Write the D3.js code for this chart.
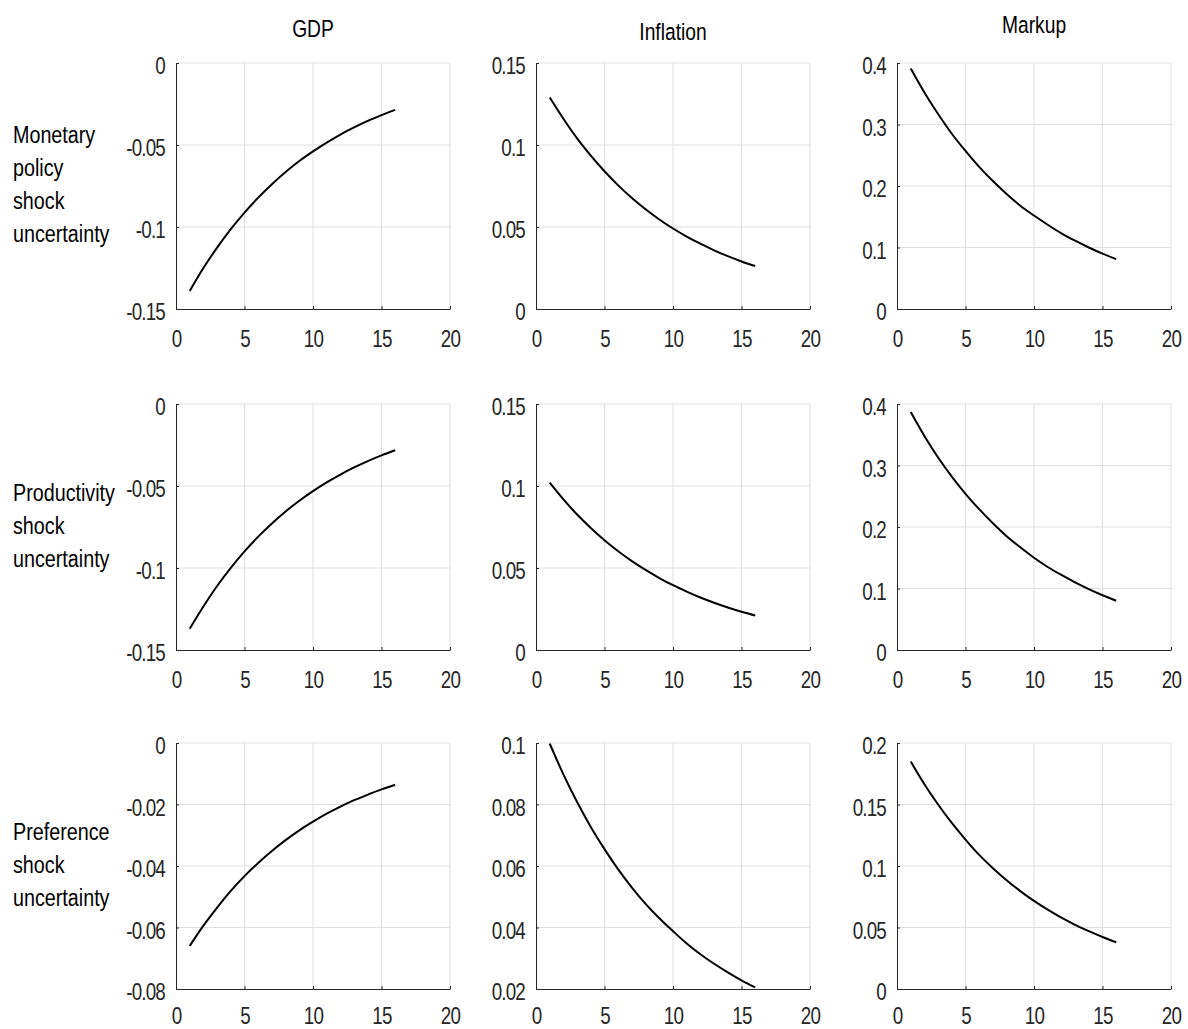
<!DOCTYPE html>
<html>
<head>
<meta charset="utf-8">
<script src="https://cdn.jsdelivr.net/npm/d3@7"></script>
<style>
  body { margin: 0; background: #fff; }
  svg { display: block; font-family: "Liberation Sans", Arial, sans-serif; }
  .grid line { stroke: #dfdfdf; stroke-width: 1; }
  .axis path, .axis line { stroke: #262626; }
  .axis text { fill: #262626; font-size: 23.5px; letter-spacing: -1px; }
  .title, .row-label { fill: #000; font-size: 23.5px; }
</style>
</head>
<body>
<div id="chart"></div>
<script>
// periods after the shock
const periods = [1, 2, 3, 4, 5, 6, 7, 8, 9, 10, 11, 12, 13, 14, 15, 16];
const xTicks = [0, 5, 10, 15, 20];

const columnTitles = ["GDP", "Inflation", "Markup"];
const rowLabels = [
  ["Monetary", "policy", "shock", "uncertainty"],
  ["Productivity", "shock", "uncertainty"],
  ["Preference", "shock", "uncertainty"]
];

// monetary policy shock uncertainty
const monetaryGDP = [-0.139, -0.125, -0.1126, -0.1013, -0.0912, -0.0821, -0.0739, -0.0665, -0.0598, -0.0539, -0.0485, -0.0436, -0.0393, -0.0353, -0.0318, -0.0286];
const monetaryInflation = [0.129, 0.116, 0.104, 0.0935, 0.084, 0.0754, 0.0677, 0.0608, 0.0546, 0.0491, 0.0442, 0.0398, 0.0358, 0.0322, 0.029, 0.0262];
const monetaryMarkup = [0.391, 0.352, 0.317, 0.285, 0.257, 0.231, 0.208, 0.187, 0.168, 0.152, 0.137, 0.123, 0.111, 0.1, 0.09, 0.081];

// productivity shock uncertainty
const productivityGDP = [-0.137, -0.1235, -0.111, -0.0999, -0.0899, -0.0809, -0.0728, -0.0655, -0.059, -0.0531, -0.0478, -0.043, -0.0387, -0.0348, -0.0313, -0.0282];
const productivityInflation = [0.102, 0.0918, 0.0826, 0.0744, 0.0669, 0.0602, 0.0542, 0.0488, 0.0439, 0.0395, 0.0356, 0.032, 0.0288, 0.0259, 0.0233, 0.021];
const productivityMarkup = [0.387, 0.348, 0.313, 0.282, 0.254, 0.229, 0.206, 0.185, 0.167, 0.15, 0.135, 0.122, 0.11, 0.099, 0.089, 0.08];

// preference shock uncertainty
const preferenceGDP = [-0.066, -0.0594, -0.0535, -0.0481, -0.0433, -0.039, -0.0351, -0.0316, -0.0284, -0.0256, -0.023, -0.0207, -0.0186, -0.0168, -0.0151, -0.0136];
const preferenceInflation = [0.0998, 0.0898, 0.0808, 0.0727, 0.0655, 0.0589, 0.053, 0.0477, 0.043, 0.0388, 0.0348, 0.0313, 0.0282, 0.0254, 0.0228, 0.0205];
const preferenceMarkup = [0.185, 0.1665, 0.15, 0.135, 0.1215, 0.109, 0.0982, 0.0884, 0.0796, 0.0716, 0.0645, 0.058, 0.0522, 0.047, 0.0423, 0.038];

// y tick values, one list per panel
const gdpTicks = [-0.15, -0.1, -0.05, 0];
const gdpTicksPref = [-0.08, -0.06, -0.04, -0.02, 0];
const inflationTicks = [0, 0.05, 0.1, 0.15];
const inflationTicksPref = [0.02, 0.04, 0.06, 0.08, 0.1];
const markupTicks = [0, 0.1, 0.2, 0.3, 0.4];
const markupTicksPref = [0, 0.05, 0.1, 0.15, 0.2];

const panels = [
  [monetaryGDP, gdpTicks], [monetaryInflation, inflationTicks], [monetaryMarkup, markupTicks],
  [productivityGDP, gdpTicks], [productivityInflation, inflationTicks], [productivityMarkup, markupTicks],
  [preferenceGDP, gdpTicksPref], [preferenceInflation, inflationTicksPref], [preferenceMarkup, markupTicksPref]
];

const width = 1188, height = 1029;
const colLeft = [176, 536, 897];
const rowTop = [63, 404, 743];
const panelW = 274, panelH = 246;
const titleY = [37, 40, 33];
// bottom row labels sit closer to the axis so they stay inside the page
const xLabelPad = [21, 21, 18];

// the reference type is a tall, narrow sans; squeeze Liberation Sans sideways
const tickSqueeze = 0.8, labelSqueeze = 0.84, titleSqueeze = 0.82;

function squeeze(sel, k) {
  sel.attr("transform", `scale(${k},1)`)
    .attr("x", function () { return (+this.getAttribute("x") || 0) / k; });
}

const svg = d3.select("#chart").append("svg")
  .attr("width", width)
  .attr("height", height);

const fmt = v => String(+v.toFixed(4));

panels.forEach(([values, yTicks], i) => {
  const row = Math.floor(i / 3), col = i % 3;
  const g = svg.append("g").attr("transform", `translate(${colLeft[col]},${rowTop[row]})`);

  const x = d3.scaleLinear().domain([0, 20]).range([0, panelW]);
  const y = d3.scaleLinear().domain(d3.extent(yTicks)).range([panelH, 0]);

  const grid = g.append("g").attr("class", "grid");
  grid.selectAll(".gx").data(xTicks.slice(1)).join("line")
    .attr("x1", d => x(d)).attr("x2", d => x(d))
    .attr("y1", 0).attr("y2", panelH);
  grid.selectAll(".gy").data(yTicks.slice(1)).join("line")
    .attr("x1", 0).attr("x2", panelW)
    .attr("y1", d => y(d)).attr("y2", d => y(d));

  g.append("g").attr("class", "axis")
    .attr("transform", `translate(0,${panelH})`)
    .call(d3.axisBottom(x).tickValues(xTicks).tickFormat(fmt).tickSizeInner(-3).tickSizeOuter(0).tickPadding(xLabelPad[row]))
    .call(a => a.selectAll("text").attr("dy", "0.71em").call(squeeze, tickSqueeze));

  g.append("g").attr("class", "axis")
    .call(d3.axisLeft(y).tickValues(yTicks).tickFormat(fmt).tickSizeInner(-3).tickSizeOuter(0).tickPadding(11))
    .call(a => a.selectAll("text").attr("dy", "0.46em").call(squeeze, tickSqueeze));

  g.append("path")
    .datum(values)
    .attr("fill", "none")
    .attr("stroke", "#000")
    .attr("stroke-width", 2)
    .attr("d", d3.line().curve(d3.curveMonotoneX).x((d, k) => x(periods[k])).y(d => y(d)));

  if (row === 0) {
    svg.append("text").attr("class", "title")
      .attr("x", colLeft[col] + panelW / 2)
      .attr("y", titleY[col])
      .attr("text-anchor", "middle")
      .text(columnTitles[col])
      .call(squeeze, titleSqueeze);
  }
});

rowLabels.forEach((lines, r) => {
  const mid = rowTop[r] + panelH / 2 + 7;
  const t = svg.append("text").attr("class", "row-label")
    .attr("transform", `scale(${labelSqueeze},1)`);
  lines.forEach((line, k) => {
    t.append("tspan")
      .attr("x", 13 / labelSqueeze)
      .attr("y", mid + (k - (lines.length - 1) / 2) * 33)
      .text(line);
  });
});
</script>
</body>
</html>
